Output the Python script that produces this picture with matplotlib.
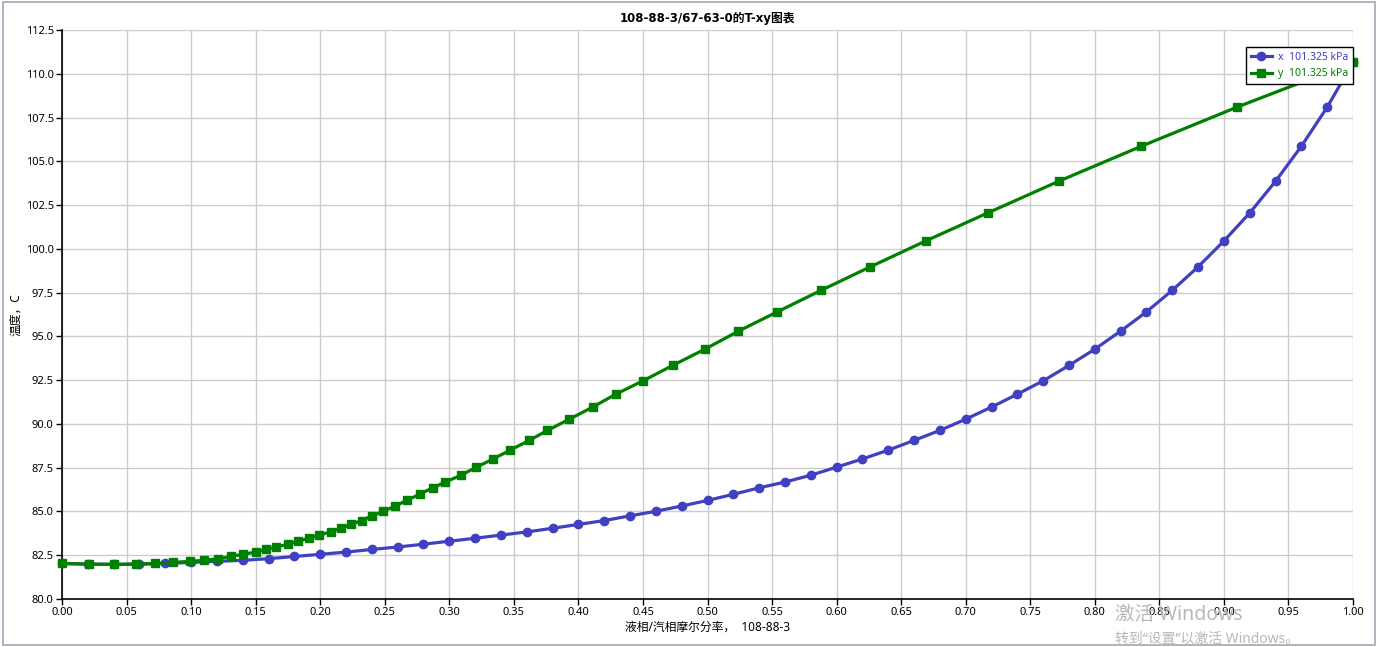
import matplotlib
matplotlib.use("Agg")
import matplotlib.pyplot as plt
from matplotlib.patches import Rectangle
import numpy as np

plt.rcParams["font.family"] = ["Noto Sans", "Noto Sans CJK SC", "DejaVu Sans"]

# liquid mole fraction of 108-88-3 and bubble temperature
x_liq = [0.00, 0.02, 0.04, 0.06, 0.08, 0.10, 0.12, 0.14, 0.16, 0.18,
         0.20, 0.22, 0.24, 0.26, 0.28, 0.30, 0.32, 0.34, 0.36, 0.38,
         0.40, 0.42, 0.44, 0.46, 0.48, 0.50, 0.52, 0.54, 0.56, 0.58,
         0.60, 0.62, 0.64, 0.66, 0.68, 0.70, 0.72, 0.74, 0.76, 0.78,
         0.80, 0.82, 0.84, 0.86, 0.88, 0.90, 0.92, 0.94, 0.96, 0.98, 1.00]
temp = [82.03, 81.99, 81.98, 81.99, 82.03, 82.09, 82.15, 82.21, 82.30, 82.43,
        82.55, 82.68, 82.83, 82.97, 83.13, 83.30, 83.47, 83.65, 83.83, 84.04,
        84.26, 84.48, 84.75, 85.01, 85.31, 85.63, 85.98, 86.35, 86.68, 87.07,
        87.53, 88.00, 88.50, 89.06, 89.63, 90.27, 90.96, 91.70, 92.46, 93.34,
        94.27, 95.30, 96.40, 97.63, 98.97, 100.45, 102.05, 103.86, 105.86, 108.09,
        110.65]
# vapour mole fraction in equilibrium
y_vap = [0.000, 0.021, 0.040, 0.057, 0.072, 0.086, 0.099, 0.110, 0.121, 0.131,
         0.140, 0.150, 0.158, 0.166, 0.175, 0.183, 0.191, 0.199, 0.208, 0.216,
         0.224, 0.232, 0.240, 0.249, 0.258, 0.267, 0.277, 0.287, 0.297, 0.309,
         0.321, 0.334, 0.347, 0.362, 0.376, 0.393, 0.411, 0.429, 0.450, 0.473,
         0.498, 0.524, 0.554, 0.588, 0.626, 0.669, 0.717, 0.772, 0.836, 0.910,
         1.000]

C_X = "#4040C0"
C_Y = "#008000"

fig = plt.figure(figsize=(13.78, 6.47), dpi=100)
fig.patch.set_facecolor("white")
ax = fig.add_axes([62/1378, 1 - 599/647, (1353-62)/1378, (599-30)/647])

ax.plot(x_liq, temp, color=C_X, lw=2.3, marker="o", ms=6,
        label="x  101.325 kPa", clip_on=False, zorder=3)
ax.plot(y_vap, temp, color=C_Y, lw=2.3, marker="s", ms=6,
        label="y  101.325 kPa", clip_on=False, zorder=4)

ax.set_xlim(0, 1)
ax.set_ylim(80, 112.5)
ax.set_xticks(np.arange(0, 1.0001, 0.05))
ax.set_xticklabels([f"{v:.2f}" for v in np.arange(0, 1.0001, 0.05)])
ax.set_yticks(np.arange(80, 112.51, 2.5))
ax.set_yticklabels([f"{v:.1f}" for v in np.arange(80, 112.51, 2.5)])
ax.tick_params(labelsize=8, length=4, width=1, direction="out", pad=2)
ax.spines[["top", "right"]].set_visible(False)
ax.spines[["left", "bottom"]].set_linewidth(1.2)
ax.grid(True, color="#cccccc", lw=1)
ax.set_axisbelow(True)

ax.set_title("108-88-3/67-63-0的T-xy图表", fontsize=8.5, fontweight="bold", pad=6,
             family=["DejaVu Sans", "Noto Sans CJK SC"])
ax.set_xlabel("液相/汽相摩尔分率，  108-88-3", fontsize=8.5, labelpad=2)
ax.set_ylabel("温度，C", fontsize=8.5)
ax.yaxis.set_label_coords(-40/1291, 0.5)

leg = ax.legend(loc="upper right", bbox_to_anchor=(1.0, 0.97), fontsize=7.5,
                frameon=True, fancybox=False, framealpha=1, borderpad=0.45,
                handlelength=2.0, handletextpad=0.6, labelspacing=0.55,
                borderaxespad=0)
leg.get_frame().set_edgecolor("black")
leg.get_frame().set_linewidth(1.0)
for txt, c in zip(leg.get_texts(), [C_X, C_Y]):
    txt.set_color(c)

# window frame and activation watermark
fig.patches.append(Rectangle((0.002, 0.003), 0.996, 0.994, transform=fig.transFigure,
                             fill=False, edgecolor="#a0a8b8", lw=1.2))
fig.text(1115/1378, 1 - 615/647, "激活 Windows", fontsize=14, color="#b8b8b8", va="center")
fig.text(1115/1378, 1 - 639/647, "转到“设置”以激活 Windows。", fontsize=10,
         color="#b8b8b8", va="center")

plt.savefig("out.png", dpi=100, facecolor="white")
